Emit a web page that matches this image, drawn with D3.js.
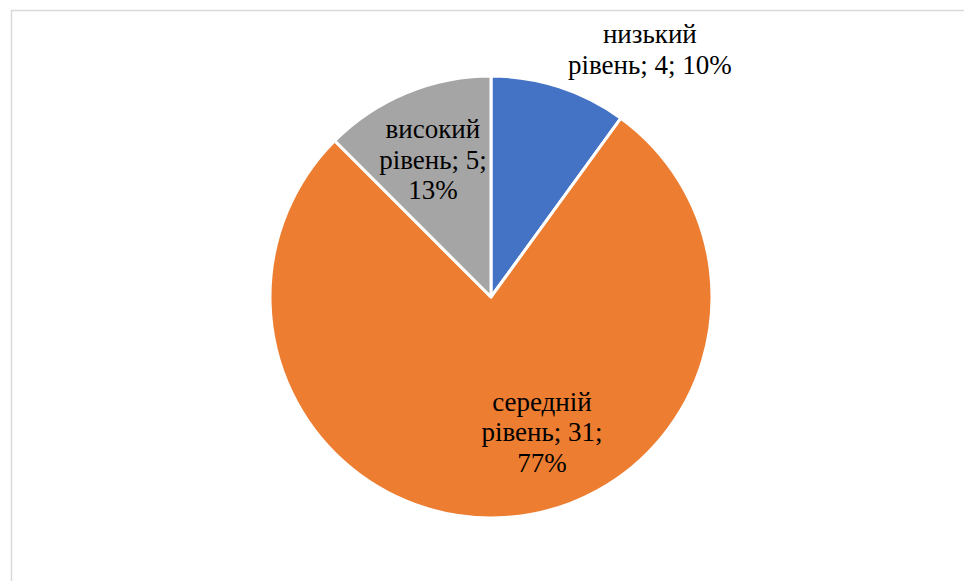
<!DOCTYPE html>
<html>
<head>
<meta charset="utf-8">
<script src="https://cdn.jsdelivr.net/npm/d3@7"></script>
<style>
    body { margin: 0; background: #fff; }
    .chart { position: relative; width: 964px; height: 581px; }
    .chart svg { position: absolute; left: 0; top: 0; }
    .label {
        position: absolute;
        font-family: "Liberation Serif", Tinos, "Times New Roman", serif;
        font-size: 27px;
        line-height: 30.5px;
        color: #000;
        text-align: center;
        white-space: nowrap;
        transform: translate(-50%, -50%);
    }
</style>
</head>
<body>
<div class="chart"></div>
<script>
'use strict';

const width = 964;
const height = 581;

// data
const categories = ['низький рівень', 'середній рівень', 'високий рівень'];
const counts = [4, 31, 5];
const percents = ['10%', '77%', '13%'];
const colors = ['#4472C4', '#ED7D31', '#A5A5A5'];

// label lines as Excel wrapped them
const labelLines = [
    ['низький', 'рівень; 4; 10%'],
    ['середній', 'рівень; 31;', '77%'],
    ['високий', 'рівень; 5;', '13%']
];

const cx = 491;
const cy = 297;
const radius = 221;

// label centre: [radius factor, angle shift in degrees] (Excel best fit)
const labelLayout = [
    [1.32, 15],
    [0.668, -15.7],
    [0.659, -1]
];

function run() {
    const chart = d3.select('.chart');

    const svg = chart.append('svg')
        .attr('width', width)
        .attr('height', height);

    svg.append('rect')
        .attr('x', 11.5)
        .attr('y', 10.5)
        .attr('width', 1000)
        .attr('height', 700)
        .attr('fill', 'none')
        .attr('stroke', '#d9d9d9')
        .attr('stroke-width', 1.5);

    const pie = d3.pie().sort(null).value(d => d);
    const arcs = pie(counts);

    const arc = d3.arc().innerRadius(0).outerRadius(radius);

    svg.selectAll('.slice')
        .data(arcs)
        .enter().append('path')
        .attr('class', 'slice')
        .attr('transform', `translate(${cx},${cy})`)
        .attr('d', arc)
        .attr('fill', (d, i) => colors[i])
        .attr('stroke', '#fff')
        .attr('stroke-width', 3)
        .attr('stroke-linejoin', 'round');

    // labels as html so the serif face is picked up
    arcs.forEach((d, i) => {
        const [k, shift] = labelLayout[i];
        const a = (d.startAngle + d.endAngle) / 2 + shift * Math.PI / 180;
        const r = radius * k;
        const x = cx + Math.sin(a) * r;
        const y = cy - Math.cos(a) * r - 3;
        const div = chart.append('div')
            .attr('class', 'label')
            .style('left', x + 'px')
            .style('top', y + 'px');
        labelLines[i].forEach(line => {
            div.append('div').text(line);
        });
    });
}

run();
</script>
</body>
</html>
